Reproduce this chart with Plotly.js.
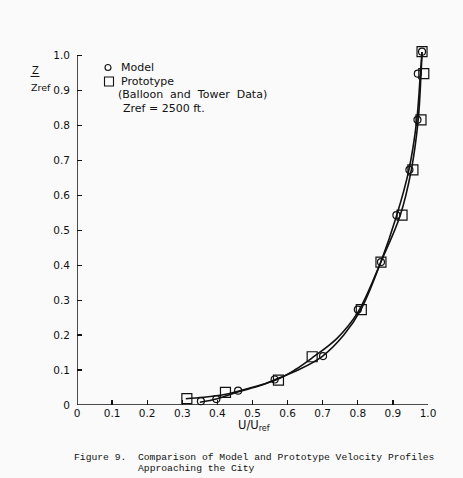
<!DOCTYPE html>
<html>
<head>
<meta charset="utf-8">
<script src="https://cdn.plot.ly/plotly-3.0.1.min.js"></script>
<style>html,body{margin:0;padding:0;background:#fafafa;}</style>
</head>
<body>
<div id="chart" style="width:463px;height:478px;"></div>
<script>
// Model (circles)
var modelX = [0.353, 0.397, 0.459, 0.563, 0.701, 0.800, 0.866, 0.910, 0.947, 0.970, 0.971, 0.983];
var modelY = [0.011, 0.017, 0.041, 0.073, 0.140, 0.273, 0.409, 0.543, 0.673, 0.816, 0.948, 1.011];
// Prototype (squares)
var protoX = [0.313, 0.423, 0.574, 0.670, 0.810, 0.866, 0.926, 0.957, 0.980, 0.988, 0.983];
var protoY = [0.018, 0.036, 0.071, 0.138, 0.273, 0.409, 0.543, 0.673, 0.816, 0.948, 1.011];
// Faired curves
var modelCurveX = [0.350, 0.400, 0.460, 0.520, 0.570, 0.630, 0.700, 0.760, 0.810, 0.866, 0.910, 0.945, 0.968, 0.978, 0.983];
var modelCurveY = [0.008, 0.018, 0.038, 0.055, 0.075, 0.100, 0.140, 0.200, 0.275, 0.410, 0.540, 0.670, 0.815, 0.945, 1.010];
var protoCurveX = [0.310, 0.360, 0.420, 0.480, 0.570, 0.620, 0.670, 0.740, 0.800, 0.866, 0.920, 0.952, 0.972, 0.980, 0.983];
var protoCurveY = [0.018, 0.022, 0.030, 0.045, 0.073, 0.100, 0.135, 0.190, 0.265, 0.410, 0.540, 0.670, 0.815, 0.945, 1.010];
var tickVals = [0, 0.1, 0.2, 0.3, 0.4, 0.5, 0.6, 0.7, 0.8, 0.9, 1.0];
var tickText = ['0', '0.1', '0.2', '0.3', '0.4', '0.5', '0.6', '0.7', '0.8', '0.9', '1.0'];

var ink = '#111';
var W = 463, H = 478, ML = 77, MR = 35, MT = 44.5, MB = 73;
var PW = W - ML - MR, PH = H - MT - MB;
function px(p) { return (p - ML) / PW; }
function py(p) { return (H - MB - p) / PH; }

var traces = [
  {x: modelCurveX, y: modelCurveY, mode: 'lines', line: {color: ink, width: 1.6, shape: 'spline', smoothing: 1}, showlegend: false, hoverinfo: 'skip'},
  {x: protoCurveX, y: protoCurveY, mode: 'lines', line: {color: ink, width: 1.6, shape: 'spline', smoothing: 1}, showlegend: false, hoverinfo: 'skip'},
  {x: modelX, y: modelY, mode: 'markers', name: 'Model', showlegend: false, marker: {symbol: 'circle-open', size: 7, color: ink, line: {width: 1.2, color: ink}}, cliponaxis: false},
  {x: protoX, y: protoY, mode: 'markers', name: 'Prototype', showlegend: false, marker: {symbol: 'square-open', size: 10, color: ink, line: {width: 1.2, color: ink}}, cliponaxis: false}
];

var tickFont = {family: 'DejaVu Sans', size: 10.5, color: ink};
var txtFont = {family: 'DejaVu Sans', size: 11, color: ink};
var capFont = {family: 'Liberation Mono', size: 9.7, color: ink};
var NB = '\u00A0';
var layout = {
  width: W, height: H,
  margin: {l: ML, r: MR, t: MT, b: MB},
  paper_bgcolor: '#fafafa', plot_bgcolor: '#fafafa',
  showlegend: false,
  xaxis: {range: [0, 1.0], tickvals: tickVals, ticktext: tickText, ticks: 'inside', ticklen: 5, tickwidth: 1.3, tickcolor: ink,
          showline: false, showgrid: false, zeroline: false, tickfont: tickFont},
  yaxis: {range: [0, 1.03], tickvals: tickVals, ticktext: tickText, ticks: 'inside', ticklen: 5, tickwidth: 1.3, tickcolor: ink,
          showline: false, showgrid: false, zeroline: false, tickfont: tickFont, ticklabelstandoff: 6},
  shapes: [
    {type: 'line', xref: 'x', yref: 'y', x0: 0, x1: 1, y0: 0, y1: 0, line: {color: ink, width: 1.5}},
    {type: 'line', xref: 'x', yref: 'y', x0: 0, x1: 0, y0: 0, y1: 1, line: {color: ink, width: 1.5}},
    {type: 'line', xref: 'paper', yref: 'paper', x0: px(30.5), x1: px(39.5), y0: py(76), y1: py(76), line: {color: ink, width: 1}},
    // legend symbols
    {type: 'circle', xref: 'paper', yref: 'paper', x0: px(105), x1: px(111), y0: py(70), y1: py(64), line: {color: ink, width: 1.1}},
    {type: 'rect', xref: 'paper', yref: 'paper', x0: px(104.5), x1: px(113.5), y0: py(85.5), y1: py(76.5), line: {color: ink, width: 1.1}}
  ],
  annotations: [
    {text: 'Z', xref: 'paper', yref: 'paper', x: px(35), y: py(70), xanchor: 'center', yanchor: 'middle', showarrow: false, font: {family: 'DejaVu Sans', size: 10, color: ink}},
    {text: 'Zref', xref: 'paper', yref: 'paper', x: px(40.5), y: py(87), xanchor: 'center', yanchor: 'middle', showarrow: false, font: {family: 'DejaVu Sans', size: 9.5, color: ink}},
    {text: 'Model', xref: 'paper', yref: 'paper', x: px(119), y: py(67), xanchor: 'left', yanchor: 'middle', showarrow: false, font: txtFont},
    {text: 'Prototype', xref: 'paper', yref: 'paper', x: px(119), y: py(81), xanchor: 'left', yanchor: 'middle', showarrow: false, font: txtFont},
    {text: '(Balloon' + NB + NB + 'and' + NB + NB + 'Tower' + NB + NB + 'Data)', xref: 'paper', yref: 'paper', x: px(116), y: py(94), xanchor: 'left', yanchor: 'middle', showarrow: false, font: txtFont},
    {text: 'Zref = 2500 ft.', xref: 'paper', yref: 'paper', x: px(121), y: py(108), xanchor: 'left', yanchor: 'middle', showarrow: false, font: txtFont},
    {text: 'U/U<sub>ref</sub>', xref: 'paper', yref: 'paper', x: px(254), y: py(426), xanchor: 'center', yanchor: 'middle', showarrow: false, font: {family: 'DejaVu Sans', size: 11.5, color: ink}},
    {text: 'Figure 9.  Comparison of Model and Prototype Velocity Profiles', xref: 'paper', yref: 'paper', x: px(72), y: py(458), xanchor: 'left', yanchor: 'middle', showarrow: false, font: capFont},
    {text: 'Approaching the City', xref: 'paper', yref: 'paper', x: px(135.5), y: py(468.5), xanchor: 'left', yanchor: 'middle', showarrow: false, font: capFont}
  ]
};
Plotly.newPlot('chart', traces, layout, {displayModeBar: false, staticPlot: true});
</script>
</body>
</html>
